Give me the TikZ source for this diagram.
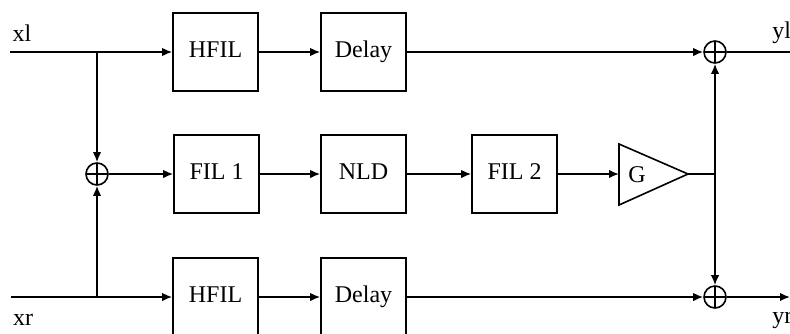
\documentclass[tikz,border=0pt]{standalone}
\usepackage{fontspec}
\setmainfont{Liberation Serif}
\usetikzlibrary{arrows.meta,positioning}

\tikzset{
  blk/.style={draw, line width=0.8pt, minimum width=42.5pt, minimum height=39pt,
    inner sep=0pt, text height=1.5ex, text depth=0.4ex, font=\fontsize{12}{14}\selectfont},
  sumnode/.style={draw, circle, line width=0.8pt, minimum size=11pt, inner sep=0pt,
    path picture={\draw[line width=0.6pt]
      (path picture bounding box.north) -- (path picture bounding box.south)
      (path picture bounding box.west) -- (path picture bounding box.east);}},
  sig/.style={line width=0.8pt, -{Latex[length=5pt,width=4.2pt]}},
  wire/.style={line width=0.8pt},
  lbl/.style={font=\fontsize{12}{14}\selectfont, inner sep=0pt}
}

\begin{document}
\begin{tikzpicture}[x=0.5pt,y=-0.5pt]
  \useasboundingbox (0,0) rectangle (790,333);

  % left channel path
  \coordinate (inL) at (10,52);
  \coordinate (brL) at (97,52);
  \coordinate (outL) at (790,52);
  \node[blk] (hfilA) at (215.5,52) {HFIL};
  \node[blk] (delA) at (363.5,52) {Delay};
  \node[sumnode] (sumA) at (715,52) {};
  \node[lbl] (xl) at (22,33) {xl};
  \node[lbl, anchor=west] (yl) at (772,33) {yl};

  % centre path: sum, filters, nonlinearity, gain
  \node[sumnode] (sumM) at (97,174) {};
  \node[blk] (fil1) at (216.5,174) {FIL 1};
  \node[blk] (nld) at (363.5,174) {NLD};
  \node[blk] (fil2) at (514.5,174) {FIL 2};
  \coordinate (gin) at (619,174);
  \coordinate (gtip) at (688,174);
  \coordinate (gj) at (715,174);
  \draw[wire] (619,144) -- (gtip) -- (619,205) -- cycle;
  \node[lbl] (gain) at (637,175) {G};

  % right channel path
  \coordinate (inR) at (11,297);
  \coordinate (brR) at (97,297);
  \coordinate (outR) at (790,297);
  \node[blk] (hfilB) at (215.5,297) {HFIL};
  \node[blk] (delB) at (363.5,297) {Delay};
  \node[sumnode] (sumB) at (715,297) {};
  \node[lbl] (xr) at (23,320) {xr};
  \node[lbl, anchor=west] (yr) at (772,320) {yr};

  % connections
  \draw[sig] (inL) -- (hfilA);
  \draw[sig] (hfilA) -- (delA);
  \draw[sig] (delA) -- (sumA);
  \draw[wire] (sumA) -- (outL);
  \draw[sig] (brL) -- (sumM);
  \draw[sig] (brR) -- (sumM);
  \draw[sig] (sumM) -- (fil1);
  \draw[sig] (fil1) -- (nld);
  \draw[sig] (nld) -- (fil2);
  \draw[sig] (fil2) -- (gin);
  \draw[wire] (gtip) -- (gj);
  \draw[sig] (gj) -- (sumA);
  \draw[sig] (gj) -- (sumB);
  \draw[sig] (inR) -- (hfilB);
  \draw[sig] (hfilB) -- (delB);
  \draw[sig] (delB) -- (sumB);
  \draw[sig] (sumB) -- (outR);
\end{tikzpicture}
\end{document}
